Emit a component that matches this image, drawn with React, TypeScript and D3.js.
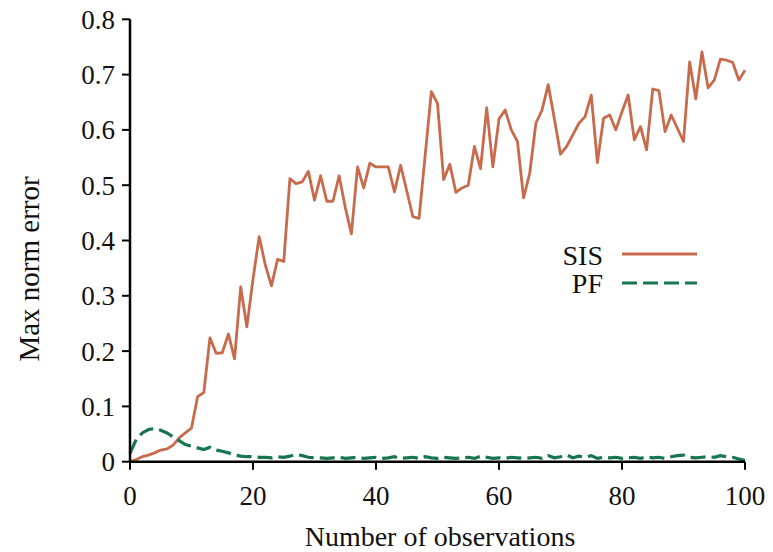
import React from "react";
import * as d3 from "d3";

const obs = d3.range(0, 101);
const sisValues = [
  0, 0.004, 0.009, 0.012, 0.016, 0.021, 0.023, 0.03, 0.043, 0.052,
  0.061, 0.118, 0.125, 0.224, 0.196, 0.197, 0.231, 0.186, 0.316, 0.244,
  0.33, 0.407, 0.356, 0.318, 0.366, 0.362, 0.512, 0.503, 0.506, 0.525,
  0.473, 0.517, 0.471, 0.471, 0.517, 0.46, 0.412, 0.533, 0.495, 0.54,
  0.533, 0.533, 0.533, 0.488, 0.536, 0.49, 0.443, 0.44, 0.555, 0.669,
  0.648, 0.51, 0.538, 0.487, 0.495, 0.5, 0.57, 0.53, 0.64, 0.533,
  0.62, 0.636, 0.6, 0.579, 0.477, 0.522, 0.612, 0.636, 0.682, 0.62,
  0.556, 0.57, 0.591, 0.612, 0.624, 0.663, 0.541, 0.621, 0.627, 0.6,
  0.633, 0.663, 0.582, 0.606, 0.564, 0.674, 0.671, 0.597, 0.627, 0.603,
  0.579, 0.723, 0.656, 0.741, 0.676, 0.69, 0.728, 0.726, 0.722, 0.69,
  0.708,
];
const pfValues = [
  0.015, 0.04, 0.052, 0.058, 0.06, 0.057, 0.052, 0.045, 0.038, 0.031,
  0.028, 0.025, 0.022, 0.026, 0.021, 0.019, 0.016, 0.012, 0.01, 0.009,
  0.009, 0.008, 0.008, 0.007, 0.009, 0.008, 0.01, 0.013, 0.011, 0.008,
  0.007, 0.007, 0.006, 0.007, 0.008, 0.006, 0.007, 0.008, 0.006, 0.007,
  0.008, 0.006, 0.007, 0.009, 0.006, 0.007, 0.008, 0.006, 0.009, 0.007,
  0.006, 0.008, 0.007, 0.006, 0.007, 0.008, 0.006, 0.01, 0.008, 0.006,
  0.007, 0.006, 0.008, 0.007, 0.006, 0.007, 0.008, 0.006, 0.011, 0.007,
  0.009, 0.012, 0.007, 0.01, 0.008, 0.011, 0.006, 0.008, 0.007, 0.008,
  0.006, 0.007, 0.008, 0.006, 0.009, 0.007, 0.008, 0.006, 0.009, 0.011,
  0.012, 0.008, 0.007, 0.008, 0.009, 0.008, 0.011, 0.009, 0.008, 0.005,
  0.002,
];
const xTicks = [0, 20, 40, 60, 80, 100];
const yTicks = [0, 0.1, 0.2, 0.3, 0.4, 0.5, 0.6, 0.7, 0.8];
const seriesNames = ["SIS", "PF"];

const W = 773;
const H = 552;
const FONT = "'Liberation Serif', 'Times New Roman', serif";
const SIS_COLOR = "#C86A4C";
const PF_COLOR = "#17764D";
const FS = 27;

export default function App() {
  const x = d3.scaleLinear().domain([0, 100]).range([130, 745]);
  const y = d3.scaleLinear().domain([0, 0.8]).range([461.7, 19.3]);
  const line = d3
    .line<number>()
    .x((_, i) => x(obs[i]))
    .y((d) => y(d));

  return (
    <svg
      width={W}
      height={H}
      style={{ position: "absolute", left: 0, top: 0, background: "#fff" }}
      fontFamily={FONT}
    >
      <path d={line(sisValues) || ""} fill="none" stroke={SIS_COLOR} strokeWidth={2.8} strokeLinejoin="round" />
      <path
        d={line(pfValues) || ""}
        fill="none"
        stroke={PF_COLOR}
        strokeWidth={3.2}
        strokeDasharray="15,6"
      />
      <line x1={x(0)} x2={x(100)} y1={y(0)} y2={y(0)} stroke="#000" strokeWidth={2.5} />
      <line x1={x(0)} x2={x(0)} y1={y(0)} y2={y(0.8)} stroke="#000" strokeWidth={2.5} />
      {yTicks.map((t) => (
        <g key={"y" + t}>
          <line x1={x(0) - 8} x2={x(0)} y1={y(t)} y2={y(t)} stroke="#000" strokeWidth={2} />
          <text x={115} y={y(t)} dy="0.35em" textAnchor="end" fontSize={FS} fill="#111">
            {t === 0 ? "0" : t.toFixed(1)}
          </text>
        </g>
      ))}
      {xTicks.map((t) => (
        <g key={"x" + t}>
          <line x1={x(t)} x2={x(t)} y1={y(0)} y2={y(0) + 8} stroke="#000" strokeWidth={2} />
          <text x={x(t)} y={505} textAnchor="middle" fontSize={FS} fill="#111">
            {t}
          </text>
        </g>
      ))}
      <text x={440} y={546} textAnchor="middle" fontSize={28} fill="#111">
        Number of observations
      </text>
      <text
        transform={`translate(39,269) rotate(-90)`}
        textAnchor="middle"
        fontSize={29}
        fill="#111"
      >
        Max norm error
      </text>
      <text x={603} y={255} dy="0.35em" textAnchor="end" fontSize={28} fill="#111">
        {seriesNames[0]}
      </text>
      <line x1={622} x2={697} y1={254} y2={254} stroke={SIS_COLOR} strokeWidth={3} />
      <text x={603} y={283} dy="0.35em" textAnchor="end" fontSize={28} fill="#111">
        {seriesNames[1]}
      </text>
      <line x1={622} x2={697} y1={283} y2={283} stroke={PF_COLOR} strokeWidth={3} strokeDasharray="15,6" />
    </svg>
  );
}
